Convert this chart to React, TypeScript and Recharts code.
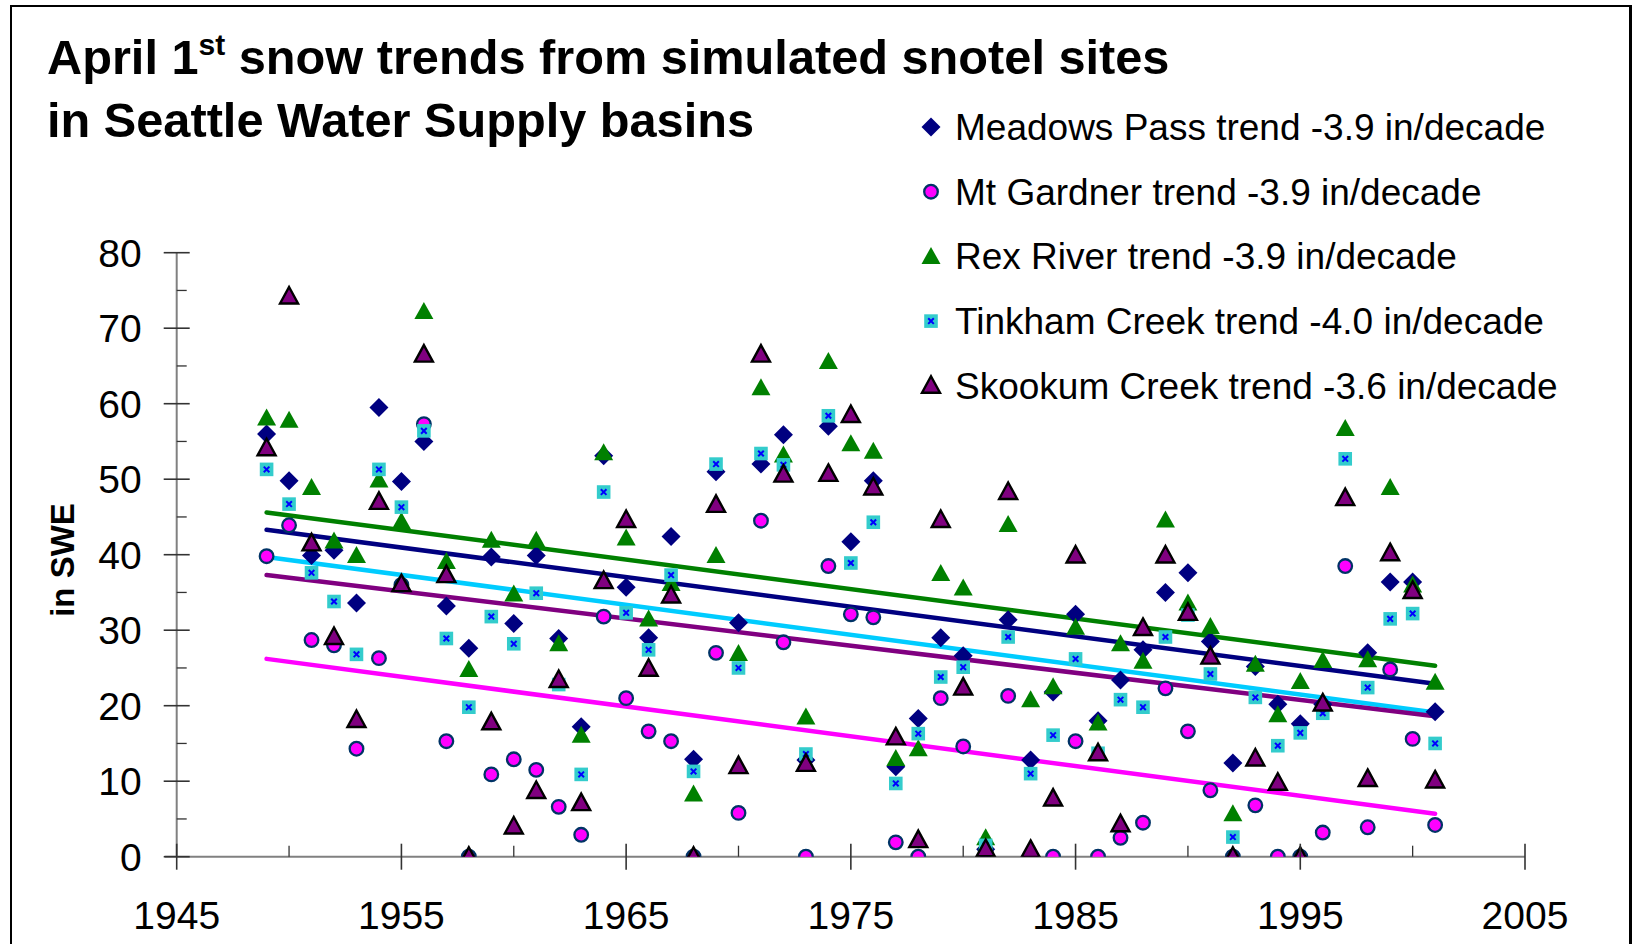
import React from 'react';
import { ComposedChart, Scatter, XAxis, YAxis, Legend } from 'recharts';

const years = [
  1949, 1950, 1951, 1952, 1953, 1954, 1955, 1956, 1957, 1958,
  1959, 1960, 1961, 1962, 1963, 1964, 1965, 1966, 1967, 1968,
  1969, 1970, 1971, 1972, 1973, 1974, 1975, 1976, 1977, 1978,
  1979, 1980, 1981, 1982, 1983, 1984, 1985, 1986, 1987, 1988,
  1989, 1990, 1991, 1992, 1993, 1994, 1995, 1996, 1997, 1998,
  1999, 2000, 2001,
];

// null = no visible mark in the reference
const meadowsPass = [
  56.0, 49.8, 39.9, 40.6, 33.6, 59.5, 49.7, 55.0, 33.2, 27.6,
  39.7, 30.9, 39.9, 28.9, 17.2, 53.1, 35.7, 29.0, 42.4, 12.9,
  51.0, 31.0, 52.0, 55.9, 12.8, 57.0, 41.7, 49.8, 11.9, 18.3,
  29.0, 26.6, 1.0, 31.4, 12.8, 21.8, 32.1, 18.0, 23.4, 27.4,
  35.0, 37.6, 28.5, 12.4, 25.2, 20.2, 17.6, 20.2, null, 27.0,
  36.4, 36.4, 19.2,
];

const mtGardner = [
  39.8, 43.9, 28.7, 28.0, 14.3, 26.3, 36.0, 57.3, 15.3, 0.0,
  10.9, 12.9, 11.5, 6.6, 2.9, 31.8, 21.0, 16.6, 15.3, 0.0,
  27.0, 5.8, 44.5, 28.4, 0.0, 38.5, 32.1, 31.7, 1.9, 0.0,
  21.0, 14.6, 0.8, 21.3, 0.0, 0.0, 15.3, 0.0, 2.5, 4.5,
  22.3, 16.6, 8.8, 0.0, 6.8, 0.0, 0.0, 3.2, 38.5, 3.9,
  24.8, 15.6, 4.2,
];

const rexRiver = [
  58.1, 57.8, 48.9, 41.8, 39.9, 49.9, 44.4, 72.2, 39.1, 24.8,
  41.9, 34.8, 41.9, 28.2, 16.1, 53.5, 42.2, 31.5, 36.2, 8.3,
  39.9, 26.9, 62.1, 53.2, 18.5, 65.6, 54.7, 53.7, 13.0, 14.3,
  37.5, 35.6, 2.5, 44.0, 20.8, 22.5, 30.4, 17.7, 28.2, 25.9,
  44.6, 33.6, 30.5, 5.7, 25.5, 18.8, 23.2, 26.0, 56.7, 26.1,
  48.9, 36.0, 23.1,
];

const tinkhamCreek = [
  51.3, 46.7, 37.6, 33.8, 26.8, 51.3, 46.3, 56.4, 28.9, 19.8,
  31.8, 28.2, 34.9, 22.8, 10.9, 48.3, 32.3, 27.4, 37.3, 11.3,
  52.0, 25.0, 53.4, 51.9, 13.6, 58.4, 38.9, 44.3, 9.7, 16.3,
  23.8, 25.1, 1.5, 29.1, 11.0, 16.1, 26.2, 13.7, 20.8, 19.8,
  29.1, 32.0, 24.2, 2.6, 21.1, 14.7, 16.4, 19.0, 52.7, 22.4,
  31.5, 32.2, 15.0,
];

const skookumCreek = [
  54.1, 74.2, 41.5, 29.1, 18.1, 47.0, 36.1, 66.5, 37.3, 0.0,
  17.8, 4.0, 8.7, 23.4, 7.1, 36.5, 44.6, 24.9, 34.6, 0.0,
  46.6, 12.0, 66.5, 50.6, 12.3, 50.7, 58.5, 48.9, 15.8, 2.2,
  44.6, 22.4, 1.0, 48.3, 0.9, 7.7, 39.9, 13.7, 4.3, 30.3,
  39.9, 32.3, 26.5, 0.0, 13.0, 9.8, 0.0, 20.3, 47.5, 10.3,
  40.2, 35.2, 10.1,
];

// Trend lines (first and last year of record)
const trendYears = [1949, 2001];
const meadowsTrend = [43.3, 22.9];
const gardnerTrend = [26.2, 5.7];
const rexTrend = [45.6, 25.3];
const tinkhamTrend = [39.7, 19.1];
const skookumTrend = [37.3, 18.6];

const legendLabels = [
  'Meadows Pass trend -3.9 in/decade',
  'Mt Gardner trend -3.9 in/decade',
  'Rex River trend -3.9 in/decade',
  'Tinkham Creek trend -4.0 in/decade',
  'Skookum Creek trend -3.6 in/decade',
];

const xTicks = [1945, 1950, 1955, 1960, 1965, 1970, 1975, 1980, 1985, 1990, 1995, 2000, 2005];
const yTicks = [0, 5, 10, 15, 20, 25, 30, 35, 40, 45, 50, 55, 60, 65, 70, 75, 80];

const FONT = '"Liberation Sans", Arial, Helvetica, sans-serif';

const toPoints = (xs: number[], ys: (number | null)[]) =>
  xs.map((x, i) => ({ x, y: ys[i] })).filter((p) => p.y !== null && p.y !== undefined);

const DiamondShape = (p: any) => {
  const { cx, cy } = p;
  return <polygon points={`${cx},${cy - 9.5} ${cx + 9.5},${cy} ${cx},${cy + 9.5} ${cx - 9.5},${cy}`} fill="#000080" />;
};
const CircleShape = (p: any) => {
  const { cx, cy } = p;
  return <circle cx={cx} cy={cy} r={6.8} fill="#FF00FF" stroke="#003366" strokeWidth={2.3} />;
};
const GreenTriShape = (p: any) => {
  const { cx, cy } = p;
  return <polygon points={`${cx},${cy - 9.5} ${cx + 9.5},${cy + 7.5} ${cx - 9.5},${cy + 7.5}`} fill="#008000" />;
};
const SquareShape = (p: any) => {
  const { cx, cy } = p;
  return (
    <g>
      <rect x={cx - 6.8} y={cy - 6.8} width={13.6} height={13.6} fill="#33CCCC" />
      <line x1={cx - 2.8} y1={cy - 2.8} x2={cx + 2.8} y2={cy + 2.8} stroke="#0000FF" strokeWidth={2} />
      <line x1={cx - 2.8} y1={cy + 2.8} x2={cx + 2.8} y2={cy - 2.8} stroke="#0000FF" strokeWidth={2} />
    </g>
  );
};
const PurpleTriShape = (p: any) => {
  const { cx, cy } = p;
  return (
    <polygon
      points={`${cx},${cy - 9.5} ${cx + 9},${cy + 7} ${cx - 9},${cy + 7}`}
      fill="#800080"
      stroke="#000000"
      strokeWidth={2.4}
      strokeLinejoin="miter"
    />
  );
};
const NoShape = () => <g />;

const shapes = [DiamondShape, CircleShape, GreenTriShape, SquareShape, PurpleTriShape];

const XTick = (props: any) => {
  const { x, y, payload } = props;
  const v = payload.value;
  const major = (v - 1945) % 10 === 0;
  return (
    <g>
      {v === 1945 && <line x1={x - 12} x2={x} y1={y} y2={y} stroke="#808080" strokeWidth={2} />}
      {major ? (
        <line x1={x} x2={x} y1={y - 13} y2={y + 13} stroke="#333" strokeWidth={1.6} />
      ) : (
        <line x1={x} x2={x} y1={y - 11} y2={y} stroke="#333" strokeWidth={1.3} />
      )}
      {major && (
        <text x={x} y={y + 72} textAnchor="middle" fontSize={39} fontFamily={FONT} fill="#000">
          {v}
        </text>
      )}
    </g>
  );
};

const YTick = (props: any) => {
  const { x, y, payload } = props;
  const v = payload.value;
  const major = v % 10 === 0;
  return (
    <g>
      {major ? (
        <line x1={x - 13} x2={x + 13} y1={y} y2={y} stroke="#333" strokeWidth={1.6} />
      ) : (
        <line x1={x} x2={x + 10} y1={y} y2={y} stroke="#333" strokeWidth={1.3} />
      )}
      {major && (
        <text x={x - 35} y={y + 14} textAnchor="end" fontSize={39} fontFamily={FONT} fill="#000">
          {v}
        </text>
      )}
    </g>
  );
};

const LegendContent = () => (
  <svg width={720} height={330} style={{ display: 'block' }}>
    {legendLabels.map((label, i) => {
      const cy = 32 + i * 64.7;
      const Shape = shapes[i];
      return (
        <g key={label}>
          <Shape cx={31} cy={cy} />
          <text x={55} y={cy + 13} fontSize={37} fontFamily={FONT} fill="#000">
            {label}
          </text>
        </g>
      );
    })}
  </svg>
);

export default function App() {
  const series = [
    { name: 'Meadows Pass', data: toPoints(years, meadowsPass), shape: DiamondShape },
    { name: 'Mt Gardner', data: toPoints(years, mtGardner), shape: CircleShape },
    { name: 'Rex River', data: toPoints(years, rexRiver), shape: GreenTriShape },
    { name: 'Tinkham Creek', data: toPoints(years, tinkhamCreek), shape: SquareShape },
    { name: 'Skookum Creek', data: toPoints(years, skookumCreek), shape: PurpleTriShape },
  ];
  const trends = [
    { name: 'Rex trend', data: toPoints(trendYears, rexTrend), color: '#008000' },
    { name: 'Meadows trend', data: toPoints(trendYears, meadowsTrend), color: '#000080' },
    { name: 'Tinkham trend', data: toPoints(trendYears, tinkhamTrend), color: '#00CCFF' },
    { name: 'Skookum trend', data: toPoints(trendYears, skookumTrend), color: '#800080' },
    { name: 'Gardner trend', data: toPoints(trendYears, gardnerTrend), color: '#FF00FF' },
  ];

  return (
    <div
      style={{
        position: 'absolute',
        left: 0,
        top: 0,
        width: 1635,
        height: 944,
        overflow: 'hidden',
        background: '#fff',
        fontFamily: FONT,
      }}
    >
      <div
        style={{
          position: 'absolute',
          left: 10,
          top: 5,
          width: 1617,
          height: 980,
          borderLeft: '2px solid #000',
          borderTop: '2px solid #000',
          borderRight: '3px solid #000',
        }}
      />
      <svg width={1635} height={944} style={{ position: 'absolute', left: 0, top: 0 }}>
        <text x={47} y={74} fontSize={48.7} fontWeight="bold" fontFamily={FONT} fill="#000">
          April 1
          <tspan fontSize={30} dy={-19}>
            st
          </tspan>
          <tspan dy={19}> snow trends from simulated snotel sites</tspan>
        </text>
        <text x={47} y={137} fontSize={48.7} fontWeight="bold" fontFamily={FONT} fill="#000">
          in Seattle Water Supply basins
        </text>
        <text
          x={62}
          y={560}
          transform="rotate(-90 62 560)"
          textAnchor="middle"
          dominantBaseline="central"
          fontSize={33}
          fontWeight="bold"
          fontFamily={FONT}
          fill="#000"
        >
          in SWE
        </text>
      </svg>
      <div style={{ position: 'absolute', left: 0, top: 0 }}>
        <ComposedChart
          width={1635}
          height={944}
          margin={{ top: 252.7, right: 110, bottom: 47.3, left: 116.7 }}
        >
          <XAxis
            type="number"
            dataKey="x"
            domain={[1945, 2005]}
            ticks={xTicks}
            interval={0}
            tickSize={0}
            tickMargin={0}
            height={40}
            axisLine={{ stroke: '#808080', strokeWidth: 2 }}
            tickLine={false}
            tick={<XTick />}
            allowDataOverflow
          />
          <YAxis
            type="number"
            dataKey="y"
            domain={[0, 80]}
            ticks={yTicks}
            interval={0}
            tickSize={0}
            tickMargin={0}
            width={60}
            axisLine={{ stroke: '#808080', strokeWidth: 2 }}
            tickLine={false}
            tick={<YTick />}
            allowDataOverflow
          />
          <Legend
            layout="vertical"
            align="center"
            verticalAlign="middle"
            content={<LegendContent />}
            wrapperStyle={{ left: 900, top: 95, width: 720, height: 330 }}
          />
          {trends.map((t) => (
            <Scatter
              key={t.name}
              name={t.name}
              data={t.data}
              dataKey="y"
              line={{ stroke: t.color, strokeWidth: 4.5, strokeLinecap: 'round' }}
              shape={NoShape}
              legendType="none"
              isAnimationActive={false}
            />
          ))}
          {series.map((s) => (
            <Scatter
              key={s.name}
              name={s.name}
              data={s.data}
              dataKey="y"
              shape={s.shape}
              isAnimationActive={false}
            />
          ))}
        </ComposedChart>
      </div>
    </div>
  );
}
